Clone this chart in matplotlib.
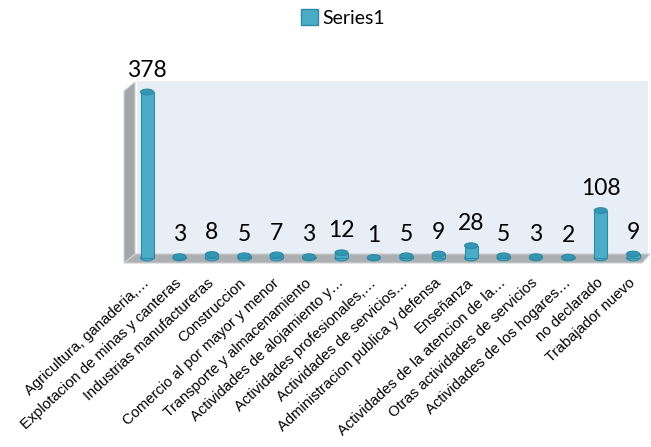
import matplotlib
matplotlib.use("Agg")
import matplotlib.pyplot as plt
from matplotlib.patches import Polygon, Ellipse, Patch
from matplotlib.transforms import ScaledTranslation

categories = [
    "Agricultura, ganaderia,…",
    "Explotacion de minas y canteras",
    "Industrias manufactureras",
    "Construccion",
    "Comercio al por mayor y menor",
    "Transporte y almacenamiento",
    "Actividades de alojamiento y…",
    "Actividades profesionales,…",
    "Actividades de servicios…",
    "Administracion publica y defensa",
    "Enseñanza",
    "Actividades de la atencion de la…",
    "Otras actividades de servicios",
    "Actividades de los hogares…",
    "no declarado",
    "Trabajador nuevo",
]
values = [378, 3, 8, 5, 7, 3, 12, 1, 5, 9, 28, 5, 3, 2, 108, 9]
series_name = "Series1"

W, H = 651, 447
BAR = "#4BACC6"
BAR_EDGE = "#2C8AA6"
CAP = "#3596B2"


def px(x, y):
    return (x / W, 1 - y / H)


fig = plt.figure(figsize=(W / 100, H / 100), dpi=100)
ax = fig.add_axes([137 / W, 1 - 258 / H, (648 - 137) / W, (258 - 81) / H])
ax.set_facecolor("#E8EEF5")
for s in ax.spines.values():
    s.set_visible(False)
ax.set_xticks([])
ax.set_yticks([])
ax.set_xlim(-0.31, 15.46)
ax.set_ylim(0, 403)

# floor + left wall of the 3d box
floor = Polygon([px(135, 254), px(650, 254), px(642, 263), px(124, 263)],
                closed=True, transform=fig.transFigure, clip_on=False,
                facecolor="#ADB0B3", edgecolor="#CDD0D2", lw=0.8, zorder=0.5)
wall = Polygon([px(124, 91), px(135, 82), px(135, 254), px(124, 263)],
               closed=True, transform=fig.transFigure, clip_on=False,
               facecolor="#A3A6A9", edgecolor="#D0D3D5", lw=0.8, zorder=0.5)
ax.add_patch(floor)
ax.add_patch(wall)

xs = list(range(len(values)))
bw = 0.40
cap_h = 13  # ellipse height in data units (~6 px)
ax.bar(xs, values, width=bw, color=BAR, edgecolor=BAR_EDGE, lw=0.8,
       zorder=2, clip_on=False)
for x, v in zip(xs, values):
    ax.add_patch(Ellipse((x, 0), bw, cap_h, facecolor=BAR, edgecolor=BAR_EDGE,
                         lw=0.8, zorder=1.9, clip_on=False))
    ax.add_patch(Ellipse((x, v), bw, cap_h, facecolor=CAP, edgecolor=BAR_EDGE,
                         lw=0.8, zorder=2.1, clip_on=False))
    ax.annotate(str(v), (x, v), xytext=(0, 11), textcoords="offset points",
                ha="center", va="baseline", fontsize=16.5, family="Lato",
                color="black")

off = ScaledTranslation(0 / 100, -23 / 100, fig.dpi_scale_trans)
for x, lab in zip(xs, categories):
    ax.text(x, 0, lab, transform=ax.get_xaxis_transform() + off,
            ha="right", va="center", rotation=43, rotation_mode="anchor",
            fontsize=10.6, family="Liberation Sans", color="black")

fig.legend(handles=[Patch(facecolor=BAR, edgecolor=BAR_EDGE, label=series_name)],
           loc="center", bbox_to_anchor=px(343, 18), frameon=False,
           handlelength=0.85, handleheight=0.85, handletextpad=0.25,
           prop={"family": "Lato", "size": 14})

fig.savefig("out.png", dpi=100)
